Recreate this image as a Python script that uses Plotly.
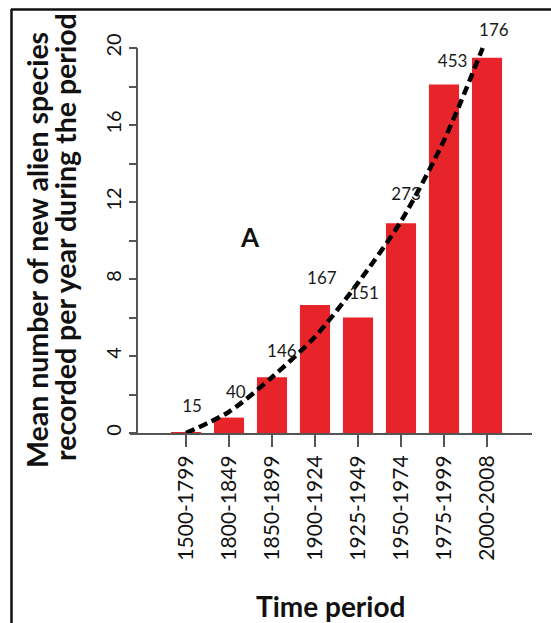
import plotly.graph_objects as go

# ---- data ----
periods = ["1500-1799", "1800-1849", "1850-1899", "1900-1924",
           "1925-1949", "1950-1974", "1975-1999", "2000-2008"]
mean_per_year = [0.05, 0.8, 2.9, 6.65, 6.0, 10.9, 18.1, 19.5]
species_counts = ["15", "40", "146", "167", "151", "273", "453", "176"]
count_label_x = [0.14, 1.16, 2.23, 3.16, 4.14, 5.12, 6.2, 7.16]
count_label_y = [1.3, 2.05, 4.15, 7.95, 7.2, 12.3, 19.25, 20.85]
trend_x = [0, 1, 2, 3, 4, 5, 6, 6.9]
trend_y = [0, 1.1, 2.9, 5.0, 7.8, 11.0, 15.2, 20.0]
y_ticks = [0, 2, 4, 6, 8, 10, 12, 14, 16, 18, 20]
y_ticktext = ["0", "", "4", "", "8", "", "12", "", "16", "", "20"]
y_title_lines = ["Mean number of new alien species",
                 "recorded per year during the period"]

# ---- layout geometry (pixels) ----
W, H = 551, 623
L, R, T, B = 130, 19, 20, 190
PW, PH = W - L - R, H - T - B
def px_x(p):
    return (p - L) / PW
def px_y(p):
    return (H - B - p) / PH

FONT = "Lato"
RED = "#E8242B"
AX = "#555555"

idx = list(range(len(periods)))

fig = go.Figure()
fig.add_trace(go.Bar(x=idx, y=mean_per_year, width=0.7,
                     marker=dict(color=RED, line=dict(width=0)),
                     showlegend=False, hoverinfo="skip"))
fig.add_trace(go.Scatter(x=trend_x, y=trend_y, mode="lines",
                         line=dict(color="black", width=4.5, dash="9px,5px",
                                   shape="spline", smoothing=0.8),
                         showlegend=False, hoverinfo="skip"))
fig.add_trace(go.Scatter(x=count_label_x, y=count_label_y, mode="text",
                         text=species_counts,
                         textfont=dict(family=FONT, size=17, color="#1a1a1a"),
                         showlegend=False, hoverinfo="skip"))

annotations = [
    dict(text="<b>A</b>", x=1.49, y=10.2, xref="x", yref="y", showarrow=False,
         font=dict(family=FONT, size=26, color="#111")),
    dict(text="<b>Time period</b>", x=px_x(330), y=px_y(606), xref="paper",
         yref="paper", showarrow=False, xanchor="center", yanchor="middle",
         font=dict(family=FONT, size=28, color="#111")),
    dict(text="<b>" + y_title_lines[0] + "</b>",
         x=px_x(37), y=px_y(250), xref="paper", yref="paper", showarrow=False,
         xanchor="center", yanchor="middle",
         textangle=-90, font=dict(family=FONT, size=28.5, color="#111")),
    dict(text="<b>" + y_title_lines[1] + "</b>",
         x=px_x(65), y=px_y(237), xref="paper", yref="paper", showarrow=False,
         xanchor="center", yanchor="middle",
         textangle=-90, font=dict(family=FONT, size=28.5, color="#111")),
]

shapes = [
    # y axis line 0..20
    dict(type="line", xref="paper", yref="y", x0=px_x(137), x1=px_x(137),
         y0=0, y1=20, line=dict(color=AX, width=2)),
    # outer frame (top and left)
    dict(type="line", xref="paper", yref="paper", x0=px_x(11), x1=px_x(600),
         y0=px_y(9.5), y1=px_y(9.5), line=dict(color="#111", width=2.5)),
    dict(type="line", xref="paper", yref="paper", x0=px_x(11.5), x1=px_x(11.5),
         y0=px_y(9), y1=px_y(700), line=dict(color="#111", width=2.5)),
]

fig.update_layout(
    width=W, height=H,
    margin=dict(l=L, r=R, t=T, b=B, pad=0),
    paper_bgcolor="white", plot_bgcolor="white",
    bargap=0.3,
    annotations=annotations, shapes=shapes,
    xaxis=dict(range=[(L - 186) / 43, (W - R - 186) / 43],
               tickvals=idx, ticktext=periods, tickangle=-90,
               ticks="outside", ticklen=12, tickwidth=2, tickcolor=AX,
               showline=True, linecolor=AX, linewidth=2,
               showgrid=False, zeroline=False,
               tickfont=dict(family=FONT, size=21, color="#111")),
    yaxis=dict(range=[0, (H - B - T) / 19.25], anchor="free", position=px_x(137),
               tickvals=y_ticks, ticktext=y_ticktext, tickangle=-90,
               ticks="outside", ticklen=8, tickwidth=2, tickcolor=AX,
               showline=False, showgrid=False, zeroline=False,
               tickfont=dict(family=FONT, size=20, color="#111")),
)

fig.write_html("out.html")
